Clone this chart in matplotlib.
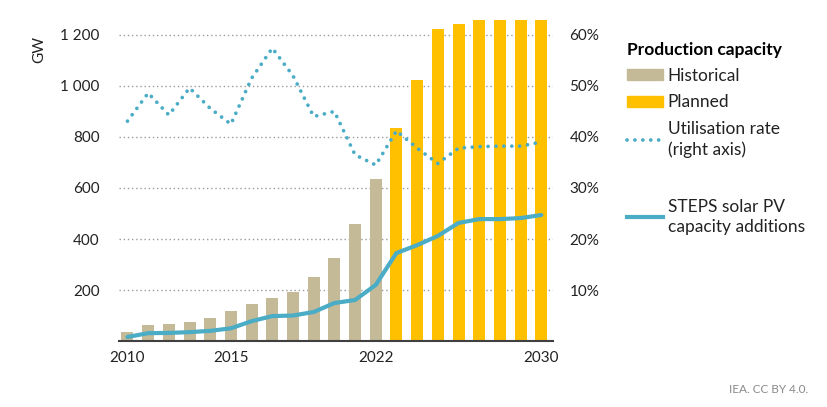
import matplotlib
matplotlib.use("Agg")
import matplotlib.pyplot as plt
from matplotlib.patches import Patch
from matplotlib.lines import Line2D
from matplotlib.ticker import FuncFormatter

plt.rcParams['font.family'] = ['Lato', 'DejaVu Sans']

years = list(range(2010, 2031))

# production capacity (GW)
historical = [35, 63, 67, 74, 90, 118, 145, 169, 192, 253, 325, 459, 637]
planned = [835, 1025, 1223, 1243, 1260, 1260, 1260, 1260]

# STEPS solar PV capacity additions (GW)
steps = [16, 31, 32, 35, 40, 50, 78, 98, 100, 114, 149, 161, 220,
         345, 376, 412, 463, 478, 478, 482, 494]

# utilisation rate (%)
util = [43.1, 48.6, 44.3, 49.6, 45.6, 42.5, 51.5, 57.4, 52.0, 44.0, 45.0,
        36.5, 34.5, 41.2, 37.8, 34.8, 37.8, 38.1, 38.2, 38.2, 39.0]

xticks = [2010, 2015, 2022, 2030]
yticks = [200, 400, 600, 800, 1000, 1200]
rticks = [10, 20, 30, 40, 50, 60]

c_hist = '#C4BA97'
c_plan = '#FFC000'
c_line = '#4BACC6'

fig = plt.figure(figsize=(8.28, 4.07), dpi=100)
ax = fig.add_axes([0.1437, 0.162, 0.524, 0.793])

ax.bar(years[:len(historical)], historical, width=0.58, color=c_hist, zorder=2)
ax.bar(years[len(historical):], planned, width=0.58, color=c_plan, zorder=2)
ax.plot(years, steps, color=c_line, lw=3, solid_capstyle='round', zorder=4)

ax.set_xlim(2009.59, 2030.56)
ax.set_ylim(0, 1265)
ax.set_xticks(xticks)
ax.set_yticks(yticks)
ax.yaxis.set_major_formatter(FuncFormatter(lambda v, p: f'{int(v):,}'.replace(',', ' ')))
ax.grid(axis='y', color='#9a9a9a', lw=1, linestyle=(0, (1, 2)), zorder=0)
ax.tick_params(axis='both', length=0, labelsize=11, colors='#222222')
ax.tick_params(axis='y', pad=14)
ax.tick_params(axis='x', pad=7)
for s in ['top', 'right', 'left']:
    ax.spines[s].set_visible(False)
ax.spines['bottom'].set_color('#404040')
ax.spines['bottom'].set_linewidth(1.5)
ax.spines['bottom'].set_zorder(5)

ax2 = ax.twinx()
ax2.plot(years, util, color=c_line, lw=2.7, linestyle=(0, (0.01, 2.1)),
         dash_capstyle='round', zorder=5)
ax2.set_ylim(0, 1265 / 20)
ax2.set_yticks(rticks)
ax2.set_yticklabels([f'{v}%' for v in rticks])
ax2.tick_params(axis='y', length=0, labelsize=11, colors='#222222', pad=12)
for s in ['top', 'right', 'left', 'bottom']:
    ax2.spines[s].set_visible(False)

fig.text(0.048, 0.878, 'GW', rotation=90, fontsize=11, color='#222222',
         ha='center', va='center')

handles = [
    Patch(color=c_hist),
    Patch(color=c_plan),
    Line2D([], [], color=c_line, lw=2.7, linestyle=(0, (0.01, 2.1)), dash_capstyle='round'),
    Line2D([], [], color='none'),
    Line2D([], [], color=c_line, lw=3),
]
labels = ['Historical', 'Planned', 'Utilisation rate\n(right axis)', ' ',
          'STEPS solar PV\ncapacity additions']
leg = fig.legend(handles, labels, loc='upper left', bbox_to_anchor=(0.757, 0.898),
                 frameon=False, fontsize=12.5, title='Production capacity',
                 title_fontproperties={'weight': 'bold', 'size': 12.5},
                 alignment='left', handlelength=2.1, handleheight=0.6,
                 handletextpad=0.25, labelspacing=0.6, borderpad=0, borderaxespad=0)
for t in leg.get_texts():
    t.set_color('#222222')
    t.set_linespacing(1.33)
leg.get_texts()[3].set_fontsize(16)

fig.text(0.976, 0.035, 'IEA. CC BY 4.0.', fontsize=8.5, color='#8a8a8a', ha='right')

fig.savefig('out.png', dpi=100)
